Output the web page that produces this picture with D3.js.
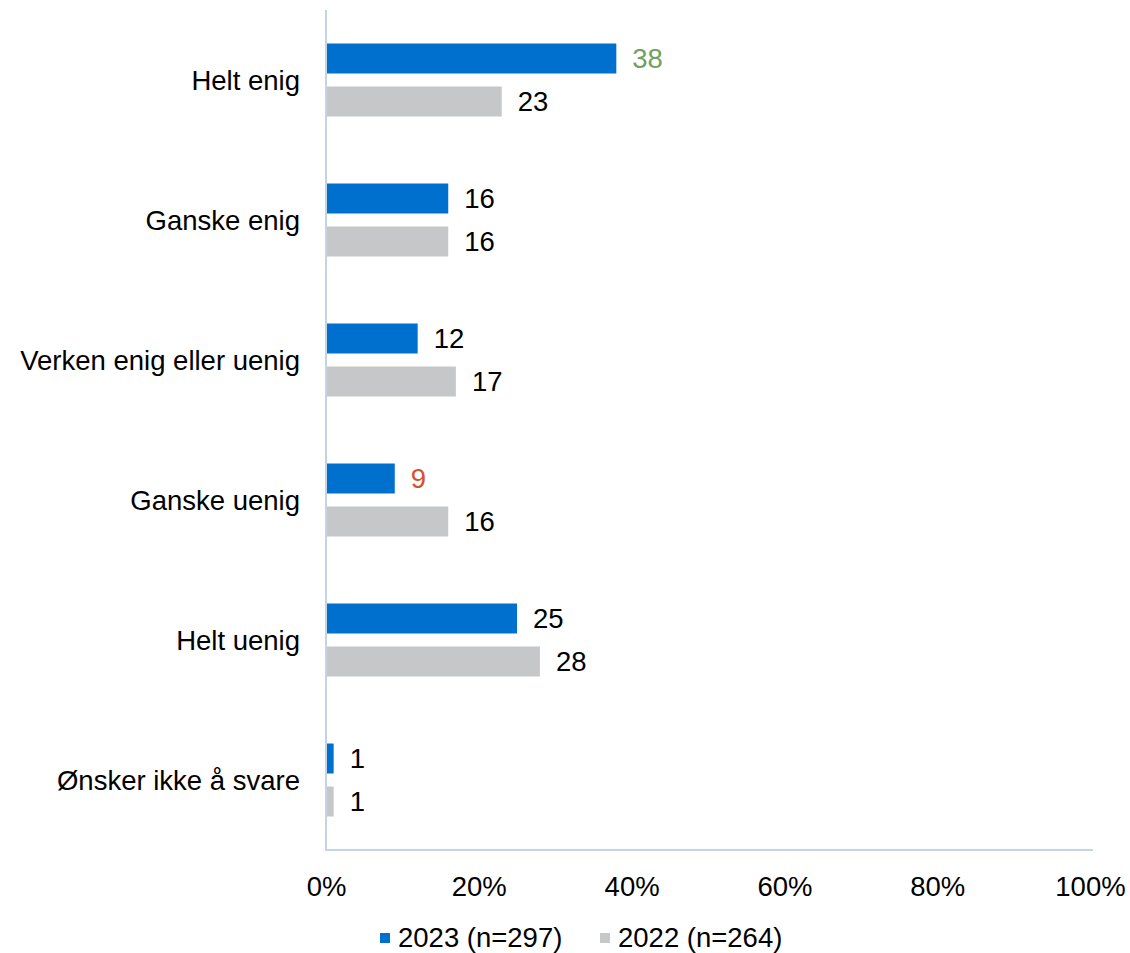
<!DOCTYPE html>
<html><head><meta charset="utf-8">
<script src="https://cdn.jsdelivr.net/npm/d3@7"></script>
<style>body{margin:0;background:#fff}svg{display:block;font-family:"Liberation Sans",Arial,sans-serif}</style>
</head><body>
<svg id="c" width="1130" height="953"></svg>
<script>
const categories = ["Helt enig","Ganske enig","Verken enig eller uenig","Ganske uenig","Helt uenig","Ønsker ikke å svare"];
const series = ["2023 (n=297)","2022 (n=264)"];
const values2023 = [38,16,12,9,25,1];
const values2022 = [23,16,17,16,28,1];
const labelColors2023 = ["#70A05E","#000","#000","#D9502F","#000","#000"];
const xTicks = [0,20,40,60,80,100];
const colors = ["#0070CE","#C6C7C8"];

(function(){
const FS = 27.5;
const svg = d3.select("#c");
const mLeft = 326, mRight = 1090, mTop = 10, mBottom = 850;
const x = d3.scaleLinear().domain([0,100]).range([mLeft,mRight]);
const y = d3.scaleBand().domain(categories).range([mTop,mBottom]);
const barH = 30, gap = 13;

const data = categories.map((c,i)=>({c, v:[values2023[i], values2022[i]], lc:[labelColors2023[i], "#000"]}));

const g = svg.append("g");
data.forEach(d=>{
  const cy = y(d.c) + y.bandwidth()/2;
  d.v.forEach((v,j)=>{
    const y0 = cy - (barH*2+gap)/2 + j*(barH+gap);
    g.append("rect").attr("x",x(0)).attr("y",y0).attr("width",x(v)-x(0)).attr("height",barH).attr("fill",colors[j]);
    g.append("text").attr("x",x(v)+16).attr("y",y0+barH/2).attr("dy","0.36em")
      .attr("font-size",FS).attr("fill",d.lc[j]).text(v);
  });
  g.append("text").attr("x",300).attr("y",cy).attr("dy","0.36em").attr("text-anchor","end")
    .attr("font-size",FS).attr("fill","#000").text(d.c);
});

svg.append("line").attr("x1",mLeft).attr("x2",mLeft).attr("y1",mTop).attr("y2",mBottom+1).attr("stroke","#C5D3E6").attr("stroke-width",2);
svg.append("line").attr("x1",mLeft-1).attr("x2",mRight+3).attr("y1",mBottom).attr("y2",mBottom).attr("stroke","#C5D3E6").attr("stroke-width",2);

const xa = svg.append("g").attr("transform",`translate(0,${mBottom})`)
  .call(d3.axisBottom(x).tickValues(xTicks).tickFormat(d=>d+"%").tickSize(0).tickPadding(26));
xa.select(".domain").remove();
xa.selectAll("text").attr("font-size",FS).attr("fill","#000").attr("font-family","Liberation Sans, Arial, sans-serif");

const lg = svg.append("g");
const legX = [380, 600];
series.forEach((s,i)=>{
  lg.append("rect").attr("x",legX[i]).attr("y",933).attr("width",10).attr("height",10).attr("fill",colors[i]);
  lg.append("text").attr("x",legX[i]+18).attr("y",937).attr("dy","0.36em").attr("font-size",FS).attr("fill","#000").text(s);
});
})();
</script>
</body></html>
